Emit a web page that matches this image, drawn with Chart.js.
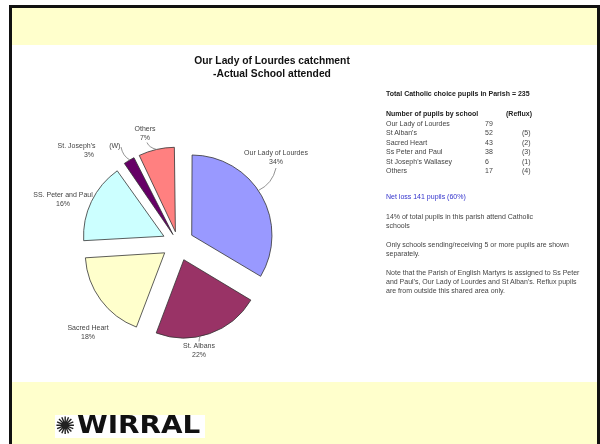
<!DOCTYPE html>
<html><head><meta charset="utf-8">
<script src="https://cdn.jsdelivr.net/npm/chart.js@4.4.1/dist/chart.umd.min.js"></script>
<style>
html,body{margin:0;padding:0;width:600px;height:444px;overflow:hidden;background:#fff;font-family:"Liberation Sans",Arial,sans-serif;}
#bandTop{position:absolute;left:12px;top:8px;width:585px;height:37px;background:#ffffcc;}
#bandBot{position:absolute;left:12px;top:382px;width:585px;height:62px;background:#ffffcc;}
#border{position:absolute;left:9px;top:5px;width:585px;height:450px;border-top:3px solid #111;border-left:3px solid #111;border-right:3px solid #111;z-index:10;pointer-events:none;}
#chartWrap{position:absolute;left:0;top:0;width:600px;height:444px;z-index:2;}
.title{position:absolute;left:172px;width:200px;text-align:center;font-weight:bold;font-size:10.3px;line-height:12px;color:#111;z-index:3;}
.txt{position:absolute;font-size:7px;line-height:8px;color:#444;white-space:nowrap;z-index:3;}
.b{font-weight:bold;color:#222;}
#logo{position:absolute;left:55px;top:415px;width:150px;height:23px;background:#fff;z-index:3;}
#logo span{position:absolute;}
</style></head><body>
<div id="bandTop"></div>
<div id="bandBot"></div>
<div class="title" style="top:55px">Our Lady of Lourdes catchment</div>
<div class="title" style="top:67.5px">-Actual School attended</div>
<div id="info"></div>
<div id="logo"><span style="left:0;top:-3px;font-family:'DejaVu Sans';font-size:24px;line-height:28px;color:#222;">&#x273A;</span><span style="left:22px;top:-4px;font-family:'DejaVu Sans';font-weight:bold;font-size:24px;line-height:28px;color:#111;transform:scaleX(1.16);transform-origin:left center;">WIRRAL</span></div>
<div id="chartWrap"><canvas id="c" width="600" height="444"></canvas></div>
<div id="border"></div>
<script>
// ---- data ----
const categories = ["Our Lady of Lourdes", "St. Albans", "Sacred Heart", "SS. Peter and Paul", "St. Joseph's", "Others"];
const pupils = [79, 52, 43, 38, 6, 17];
const tableSchools = ["Our Lady of Lourdes", "St Alban's", "Sacred Heart", "Ss Peter and Paul", "St Joseph's Wallasey", "Others"];
const tablePupils = ["79", "52", "43", "38", "6", "17"];
const tableReflux = ["", "(5)", "(2)", "(3)", "(1)", "(4)"];
const totalPupils = 235;
const sliceColors = ["#9999ff", "#993366", "#ffffcc", "#ccffff", "#660066", "#ff8080"];

// ---- right-hand text block ----
const info = document.getElementById('info');
function addText(txt, x, y, cls, color) {
  const d = document.createElement('div');
  d.className = 'txt' + (cls ? ' ' + cls : '');
  d.style.left = x + 'px'; d.style.top = (y - 4) + 'px';
  if (color) d.style.color = color;
  d.textContent = txt;
  info.appendChild(d);
}
addText("Total Catholic choice pupils in Parish = " + totalPupils, 386, 94, 'b');
addText("Number of pupils by school", 386, 114, 'b');
addText("(Reflux)", 506, 114, 'b');
tableSchools.forEach((s, i) => {
  const y = 124 + i * 9.4;
  addText(s, 386, y);
  addText(tablePupils[i], 485, y);
  if (tableReflux[i]) addText(tableReflux[i], 522, y);
});
addText("Net loss 141 pupils (60%)", 386, 197, '', '#3333cc');
addText("14% of total pupils in this parish attend Catholic", 386, 217);
addText("schools", 386, 226);
addText("Only schools sending/receiving 5 or more pupils are shown", 386, 245);
addText("separately.", 386, 254);
addText("Note that the Parish of English Martyrs is assigned to Ss Peter", 386, 273);
addText("and Paul's, Our Lady of Lourdes and St Alban's. Reflux pupils", 386, 282);
addText("are from outside this shared area only.", 386, 291);

// ---- pie layout (style) ----
const pieCenter = { x: 178, y: 243 };
const pieRadius = 78;
const explode = 18;          // uniform explosion distance in px
const borderW = 0.8;
const total = pupils.reduce((a, b) => a + b, 0);
// Chart.js moves a slice by offset/4*(1+fix); pick offsets so every slice moves `explode` px
const sliceOffsets = pupils.map(v => {
  const circ = v / total * Math.PI * 2;
  const fix = 1 - Math.sin(Math.min(Math.PI, circ));
  return 4 * explode / (1 + fix);
});
const maxOff = Math.max(...sliceOffsets);
const area = 2 * pieRadius + maxOff + borderW;

// label placement (style): [dx, dy] of label centre from pie centre, px
const labelPos = [[98, -85], [21, 107.5], [-90, 90], [-115, -43.5], [-89, -92], [-33, -109.5]];
// leader lines: [angle on slice arc (deg clockwise from top), start point rel. to label centre]
const leaders = [[56, [0, 10]], [168, [0, -9]], null, null, [330, [32, -4]], [347, [2, 9]]];

const labelPlugin = {
  id: 'sliceLabels',
  afterDatasetsDraw(chart) {
    const ctx = chart.ctx;
    const meta = chart.getDatasetMeta(0);
    ctx.save();
    ctx.font = '7px "Liberation Sans", Arial, sans-serif';
    ctx.fillStyle = '#444';
    ctx.strokeStyle = '#777';
    ctx.lineWidth = 0.8;
    ctx.textAlign = 'center';
    ctx.textBaseline = 'middle';
    meta.data.forEach((arc, i) => {
      const p = arc.getProps(['x', 'y', 'outerRadius', 'startAngle', 'endAngle'], true);
      const r = p.outerRadius;
      const mid = (p.startAngle + p.endAngle) / 2;
      const lx = p.x + labelPos[i][0];
      const ly = p.y + labelPos[i][1];
      const pct = Math.round(pupils[i] / total * 100) + '%';
      let name = categories[i];
      if (i === 4) name = name + '       (W)';
      ctx.fillText(name, lx, ly - 4.5);
      ctx.fillText(pct, lx, ly + 4.5);
      const L = leaders[i];
      if (L) {
        const a = (L[0] - 90) * Math.PI / 180;
        const ex = p.x + Math.cos(mid) * explode + Math.cos(a) * r;
        const ey = p.y + Math.sin(mid) * explode + Math.sin(a) * r;
        const sx = lx + L[1][0], sy = ly + L[1][1];
        ctx.beginPath();
        ctx.moveTo(sx, sy);
        ctx.quadraticCurveTo(sx + (ex - sx) * 0.2, ey - (ey - sy) * 0.3, ex, ey);
        ctx.stroke();
      }
    });
    ctx.restore();
  }
};

new Chart(document.getElementById('c'), {
  type: 'pie',
  data: {
    labels: categories,
    datasets: [{
      data: pupils,
      backgroundColor: sliceColors,
      borderColor: '#333',
      borderWidth: borderW,
      hoverBorderWidth: borderW,
      offset: sliceOffsets,
      hoverOffset: 0
    }]
  },
  options: {
    responsive: false,
    animation: false,
    layout: { padding: {
      left: pieCenter.x - area / 2,
      top: pieCenter.y - area / 2,
      right: 600 - (pieCenter.x + area / 2),
      bottom: 444 - (pieCenter.y + area / 2)
    } },
    plugins: { legend: { display: false }, tooltip: { enabled: false }, title: { display: false } }
  },
  plugins: [labelPlugin]
});
</script>
</body></html>
